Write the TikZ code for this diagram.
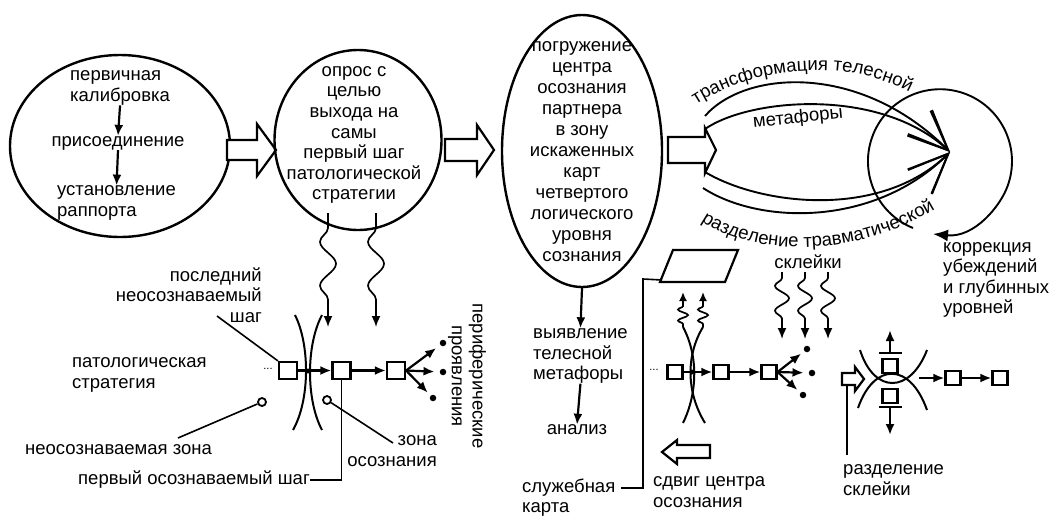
\documentclass[tikz,border=0pt]{standalone}
\usepackage{fontspec}
\setmainfont{Liberation Sans}
\usetikzlibrary{arrows.meta,decorations.pathmorphing,decorations.text,shapes.geometric}
\begin{document}
\begin{tikzpicture}[x=1pt,y=-1pt,
  txt/.style={font=\fontsize{18.5}{20.6}\selectfont, inner sep=0pt, align=center},
  outl/.style={draw, line width=2.4pt},
  arr/.style={line width=2.2pt, -{Latex[length=11pt,width=9pt]}},
  lead/.style={line width=1.6pt},
  thk/.style={line width=2pt},
  sqa/.style={draw, line width=2.2pt, fill=white, minimum width=18pt, minimum height=17pt, inner sep=0pt},
  sqb/.style={draw, line width=2.2pt, fill=white, minimum width=15pt, minimum height=14pt, inner sep=0pt},
  dotn/.style={circle, fill, inner sep=0pt, minimum size=6.5pt},
  odot/.style={circle, draw, line width=1.8pt, fill=white, inner sep=0pt, minimum size=8pt},
  blk/.style={line width=2.2pt, fill=white, line join=miter},
  wiga/.style={line width=1.7pt, -{Latex[length=11pt,width=9pt]}, decorate,
     decoration={snake, mirror, segment length=44pt, amplitude=8pt, pre length=15pt, post length=13pt}},
  wigb/.style={line width=1.7pt, -{Latex[length=11pt,width=9pt]}, decorate,
     decoration={snake, mirror, segment length=25pt, amplitude=7pt, pre length=6pt, post length=13pt}},
  wigc/.style={line width=1.7pt, -{Latex[length=9pt,width=8pt]}, decorate,
     decoration={snake, segment length=11pt, amplitude=5pt, pre length=3pt, post length=10pt}},
  big/.style={line width=1.9pt, -{Straight Barb[length=40pt,width=34pt,line width=1.9pt]}}
]
\path[use as bounding box] (0,0) rectangle (1051,515);

% ---------- ellipse 1 ----------
\node[ellipse, outl, minimum width=220pt, minimum height=182pt] (e1) at (120,146) {};
\node[txt, align=left, anchor=west] (t1a) at (70,88) {первичная\\калибровка};
\node[txt] (t1b) at (118,143) {присоединение};
\node[txt, align=left, anchor=west] (t1c) at (57,203) {установление\\раппорта};
\draw[arr] (t1a.south) -- (t1b.north);
\draw[arr] (t1b.south) -- (t1c.north);

% block arrow 1
\draw[blk] (227,140) -- (257,140) -- (257,124) -- (276,150) -- (257,176) -- (257,160) -- (227,160) -- cycle;

% ---------- circle 2 ----------
\node[ellipse, outl, minimum width=167pt, minimum height=180pt] (e2) at (358,140) {};
\node[txt] (t2) at (354,135) {опрос с\\целью\\выхода на\\самы\\первый шаг\\патологической\\стратегии};

% block arrow 2
\draw[blk] (445,139) -- (477,139) -- (477,125) -- (494,150) -- (477,175) -- (477,161) -- (445,161) -- cycle;

% ---------- ellipse 3 ----------
\node[ellipse, outl, minimum width=160pt, minimum height=272pt] (e3) at (582,151) {};
\node[txt, font=\fontsize{18.5}{21}\selectfont] (t3) at (582,152) {погружение\\центра\\осознания\\партнера\\в зону\\искаженных\\карт\\четвертого\\логического\\уровня\\сознания};
\node[txt, align=left, anchor=west] (t3b) at (533,356) {выявление\\телесной\\метафоры};
\node[txt] (t3c) at (577,430) {анализ};
\draw[arr] (e3.south) -- (t3b.north);
\draw[arr] (t3b.south) -- (t3c.north);

% block arrow 3
\draw[blk] (668,137) -- (705,137) -- (705,128) -- (716,150) -- (705,173) -- (705,163) -- (668,163) -- cycle;

% ---------- right circle and curved arrows ----------
\draw[line width=1.9pt, -{Latex[length=15pt,width=12pt]}] (913,228) arc[start angle=112, end angle=380, radius=72]
   .. controls (1001,205) and (975,238) .. (933,234);
\coordinate (tip) at (950,152);
\draw[big] (705,116) .. controls (745,70) and (860,62) .. (tip);
\draw[big] (705,129) .. controls (750,98) and (880,87) .. (tip);
\draw[big] (705,172) .. controls (760,205) and (880,220) .. (tip);
\draw[big] (703,188) .. controls (760,225) and (875,227) .. (tip);
\path[decorate, decoration={text along path, text align=center,
   text={|\fontsize{18.5}{20}\selectfont|трансформация телесной}}]
   (688,110) .. controls (750,65) and (850,55) .. (918,97);
\path[decorate, decoration={text along path, text align=center,
   text={|\fontsize{18.5}{20}\selectfont|разделение травматической}}]
   (692,214) .. controls (740,255) and (850,265) .. (945,203);
\node[txt, rotate=6] (t14) at (798,118) {метафоры};
\node[txt, align=left, anchor=west] (t12) at (943,280) {коррекция\\убеждений\\и глубинных\\уровней};

% ---------- left chain ----------
\draw[wiga] (328,213) -- (328,327);
\draw[wiga] (376,213) -- (376,327);
\draw[thk] (295,315) .. controls (310,345) and (310,400) .. (293,430);
\draw[thk] (322,315) .. controls (306,345) and (306,400) .. (322,430);
\node[font=\fontsize{11}{11}\selectfont, inner sep=0pt] (dd1) at (268,369) {...};
\node[sqa] (l1) at (288,370.5) {};
\node[sqa] (l2) at (341.5,370.5) {};
\node[sqa] (l3) at (396,370.5) {};
\draw[arr] (l1) -- (l2);
\node[dotn, minimum size=5pt] (ld) at (308,371) {};
\draw[arr] (l2) -- (l3);
\node[dotn] (p1) at (443,343) {};
\node[dotn] (p2) at (443,372) {};
\node[dotn] (p3) at (433,398) {};
\draw[arr, shorten >=5pt] (l3.east) -- (p1);
\draw[arr, shorten >=5pt] (l3.east) -- (p2);
\draw[arr, shorten >=4pt] (l3.east) -- (p3);
\node[odot] (o1) at (262,402) {};
\node[odot] (o2) at (327,400) {};
\node[txt, align=right, anchor=east] (t8) at (262,295) {последний\\неосознаваемый\\шаг\hspace{9pt}};
\coordinate (t8l) at (217,316);
\draw[lead] (t8l) -- (l1.north west);
\node[txt, align=left, anchor=west] (t9) at (72,375) {патологическая\\стратегия};
\node[txt, anchor=west] (t7) at (25,450) {неосознаваемая зона};
\coordinate (t7l) at (178,438);
\draw[lead] (o1) -- (t7l);
\node[txt, align=right, anchor=east] (t6) at (437,451) {зона\\осознания};
\coordinate (t6l) at (393,443);
\draw[lead] (o2) -- (t6l);
\node[txt, anchor=west] (t5) at (78,480) {первый осознаваемый шаг};
\draw[lead] (t5.east) -| (l2.south);
\node[txt, rotate=-90] (t10) at (467,376) {периферические\\проявления};

% ---------- middle-right chain ----------
\draw[line width=2.2pt, line join=miter] (673,250) -- (738,250) -- (725,282) -- (660,282) -- cycle;
\coordinate (pg) at (662,280);
\node[txt, align=left, anchor=west] (t4) at (522,497.5) {служебная\\карта};
\coordinate (t4l) at (621,488);
\draw[lead] (t4l) -| (643,279) -- (pg);
\draw[blk] (710,445) -- (677,445) -- (677,440) -- (662,452) -- (677,464) -- (677,458) -- (710,458) -- cycle;
\node[txt, align=left, anchor=west] (t15) at (653,492) {сдвиг центра\\осознания};
\draw[thk] (683,327) .. controls (698,355) and (698,392) .. (683,423);
\draw[thk] (703,327) .. controls (686,355) and (686,392) .. (705,423);
\draw[wigc] (683,327) -- (683,292);
\draw[wigc] (703,327) -- (703,292);
\node[font=\fontsize{11}{11}\selectfont, inner sep=0pt] (dd2) at (654,370) {...};
\node[sqb] (m1) at (675,372) {};
\node[sqb] (m2) at (721,372) {};
\node[sqb] (m3) at (769,372) {};
\draw[arr] (m1) -- (m2);
\node[dotn, minimum size=5pt] (md) at (692,372) {};
\draw[arr] (m2) -- (m3);
\node[dotn] (q1) at (807,349) {};
\node[dotn] (q2) at (812,373) {};
\node[dotn] (q3) at (803,395) {};
\draw[arr, shorten >=4pt] (m3.east) -- (q1);
\draw[arr, shorten >=5pt] (m3.east) -- (q2);
\draw[arr, shorten >=4pt] (m3.east) -- (q3);
\node[txt] (t11) at (808,262) {склейки};
\draw[wigb] (782,272) -- (782,339);
\draw[wigb] (805,272) -- (805,339);
\draw[wigb] (828,272) -- (828,339);

% ---------- right cluster ----------
\draw[thk] (860,350) .. controls (874,394) and (910,394) .. (927,350);
\draw[thk] (858,408) .. controls (874,362) and (910,362) .. (927,410);
\node[sqb] (r1) at (890,366) {};
\node[sqb] (r2) at (890,396) {};
\coordinate (b1) at (890,353);
\coordinate (b2) at (890,407);
\draw[line width=2.2pt] (879,353) -- (902,353);
\draw[line width=2.2pt] (879,407) -- (902,407);
\draw[arr] (b1) -- (890,330);
\draw[arr] (b2) -- (890,435);
\coordinate (rs) at (919,378);
\node[sqb] (r3) at (953,378) {};
\node[sqb] (r4) at (1000,378) {};
\draw[arr] (rs) -- (r3);
\draw[arr] (r3) -- (r4);
\draw[blk] (842,373) -- (855,373) -- (855,367) -- (864,379) -- (855,391) -- (855,385) -- (842,385) -- cycle;
\coordinate (sa) at (847,384);
\coordinate (sb) at (847,455);
\draw[lead] (sa) -- (sb);
\node[txt, align=left, anchor=west] (t13) at (843,480) {разделение\\склейки};
\end{tikzpicture}
\end{document}
